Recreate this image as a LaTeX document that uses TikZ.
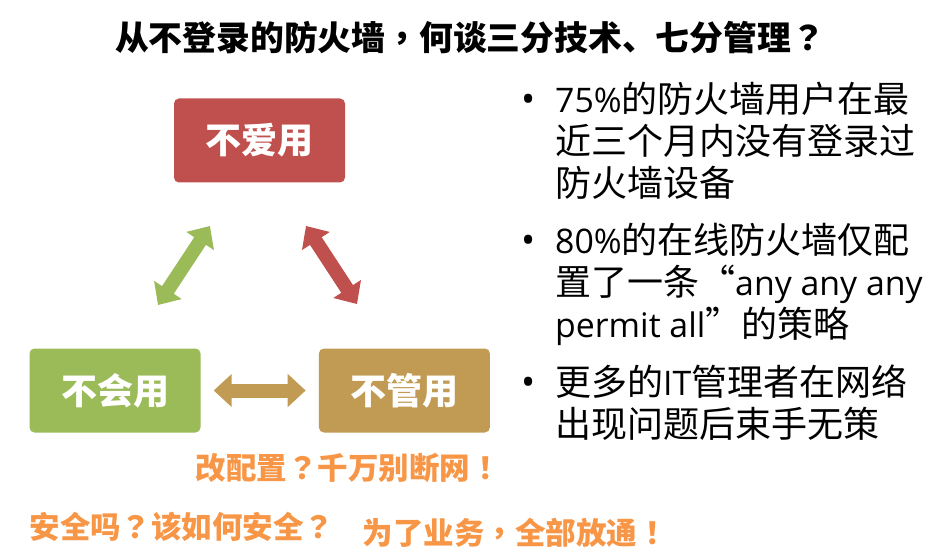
\documentclass[tikz,border=0pt]{standalone}
\usepackage{fontspec}
\setmainfont[Scale=0.94]{Open Sans}
\newfontfamily\zh{Noto Sans CJK SC}
\newfontfamily\zhp{Noto Sans CJK TC}
\newcommand{\pu}[1]{{\zhp #1}}
\usetikzlibrary{arrows.meta,positioning}
\definecolor{redbox}{HTML}{C0504D}
\definecolor{greenbox}{HTML}{9BBB59}
\definecolor{tanbox}{HTML}{C19A53}
\definecolor{orangetxt}{HTML}{F79646}
\tikzset{
  usebox/.style={fill=#1,rounded corners=5pt,minimum width=171pt,minimum height=84pt,inner sep=0pt,
    text=white,font=\zh\bfseries\fontsize{36}{36}\selectfont},
  dblarrow/.style={draw=#1,line width=14pt,{Triangle[width=32pt,length=18pt]}-{Triangle[width=32pt,length=18pt]}},
  complain/.style={text=orangetxt,inner sep=0pt,font=\zh\bfseries\fontsize{30.5}{30.5}\selectfont},
  point/.style={anchor=north west,inner sep=0pt,align=left,font=\fontsize{36}{42}\selectfont}
}
\newcommand{\bul}{\llap{{\fontsize{40}{40}\selectfont•}\hspace{20pt}}}

\begin{document}
\begin{tikzpicture}[x=1pt,y=1pt]
\useasboundingbox (0,0) rectangle (948,555);
% title
\node[font=\zh\bfseries\fontsize{33.8}{33.8}\selectfont] (title) at (470,517) {从不登录的防火墙\pu{，}何谈三分技术、七分管理\pu{？}};
% three boxes
\node[usebox=greenbox] (buhui) at (115,164.5) {不会用};
\node[usebox=tanbox,right=118pt of buhui] (buguan) {不管用};
\node[usebox=redbox] (buai) at (259.5,414.5) {不爱用};
% arrows between them
\coordinate (g1) at (158,250);\coordinate (g2) at (210,329);
\coordinate (r1) at (306,329);\coordinate (r2) at (357,251);
\draw[dblarrow=greenbox] (g1) -- (g2);
\draw[dblarrow=redbox] (r1) -- (r2);
\draw[dblarrow=tanbox,shorten <=13pt,shorten >=13pt] (buhui.east) -- (buguan.west);
% bullet points
\node[point] (p1) at (555,473) {\bul 75\%{\zh 的防火墙用户在最}\\{\zh 近三个月内没有登录过}\\{\zh 防火墙设备}};
\node[point] (p2) at (555,332) {\bul 80\%{\zh 的在线防火墙仅配}\\{\zh 置了一条“}any any any\\permit all{\zh ”的策略}};
\node[point] (p3) at (555,190) {\bul{\zh 更多的}IT{\zh 管理者在网络}\\{\zh 出现问题后束手无策}};
% complaints
\node[complain] (c1) at (348,87) {改配置\pu{？}千万别断网\pu{！}};
\node[complain] (c2) at (182,28) {安全吗\pu{？}该如何安全\pu{？}};
\node[complain] (c3) at (515,22) {为了业务\pu{，}全部放通\pu{！}};
\end{tikzpicture}
\end{document}
